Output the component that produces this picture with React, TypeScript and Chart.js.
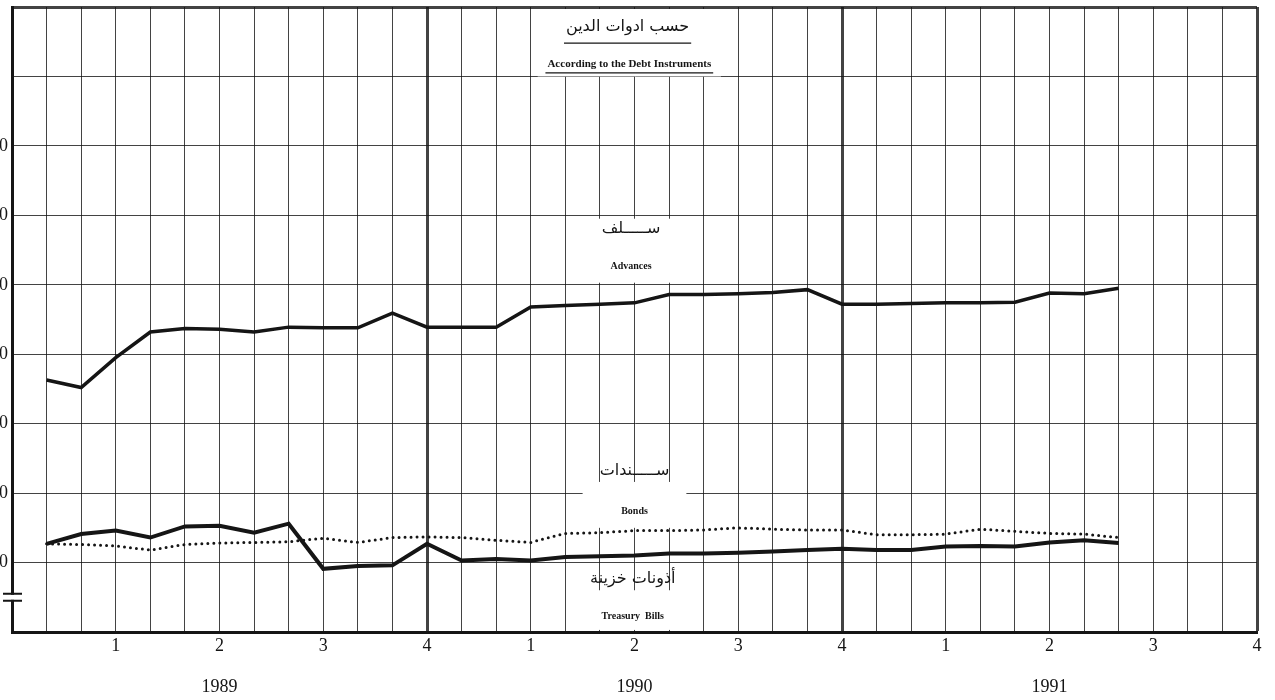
import React, { useEffect, useRef } from 'react';
import { Chart, registerables } from 'chart.js';

Chart.register(...registerables);

// x positions: month index 0..36 (Jan 1989 = 1); quarter numbers shown at quarter ends
const monthLabels = [
  '', '', '', '1', '', '', '2', '', '', '3', '', '', '4',
  '', '', '1', '', '', '2', '', '', '3', '', '', '4',
  '', '', '1', '', '', '2', '', '', '3', '', '', '4',
];
const yearLabels = ['1989', '1990', '1991'];
const yearLabelMonths = [6, 18, 30];
const yTickValues = [100, 200, 300, 400, 500, 600, 700];

// monthly values, Jan 1989 .. Aug 1991
const advances = [
  363, 352, 395, 432, 437, 436, 432, 439, 438, 438, 459, 439,
  439, 439, 468, 470, 472, 474, 486, 486, 487, 489, 493, 472,
  472, 473, 474, 474, 475, 488, 487, 495,
];
const bonds = [
  127, 126, 124, 118, 126, 128, 129, 130, 135, 129, 136, 137,
  136, 132, 129, 142, 143, 146, 146, 147, 150, 148, 147, 147,
  140, 140, 141, 148, 145, 142, 141, 136,
];
const treasuryBills = [
  127, 141, 146, 136, 152, 153, 143, 156, 91, 95, 96, 127,
  103, 105, 103, 108, 109, 110, 113, 113, 114, 116, 118, 120,
  118, 118, 123, 124, 123, 129, 132, 128,
];

const pad = (vals: number[]) => {
  const out: (number | null)[] = [null, ...vals];
  while (out.length < monthLabels.length) out.push(null);
  return out;
};

const SERIF = "'Liberation Serif', 'DejaVu Serif', serif";
const ARABIC = "'DejaVu Sans', 'Noto Sans', sans-serif";
const INK = '#151515';

// annotation blocks (month units / value units)
const boxes = [
  { m0: 15.2, m1: 20.5, v0: 800, v1: 900 },
  { m0: 16.2, m1: 19.8, v0: 503, v1: 598 },
  { m0: 16.5, m1: 19.5, v0: 150, v1: 219 },
  { m0: 16.4, m1: 19.5, v0: 3, v1: 63 },
];
const texts = [
  { t: 'حسب ادوات الدين', m: 17.8, v: 871, font: `16px ${ARABIC}`, underline: 848 },
  { t: 'According to the Debt Instruments', m: 17.85, v: 817, font: `bold 11px ${SERIF}`, underline: 805 },
  { t: 'ســـــلف', m: 17.9, v: 580, font: `16px ${ARABIC}` },
  { t: 'Advances', m: 17.9, v: 527, font: `bold 10px ${SERIF}` },
  { t: 'ســـــندات', m: 18.0, v: 232, font: `16px ${ARABIC}` },
  { t: 'Bonds', m: 18.0, v: 174, font: `bold 10px ${SERIF}` },
  { t: 'أذونات خزينة', m: 17.95, v: 76, font: `16px ${ARABIC}` },
  { t: 'Treasury  Bills', m: 17.95, v: 22, font: `bold 10px ${SERIF}` },
];

const overlayPlugin = {
  id: 'overlay',
  beforeDatasetsDraw(chart: any) {
    const { ctx, scales } = chart;
    const x = scales.x, y = scales.y;
    ctx.save();
    ctx.fillStyle = '#ffffff';
    for (const b of boxes) {
      const x0 = x.getPixelForValue(b.m0), x1 = x.getPixelForValue(b.m1);
      const y0 = y.getPixelForValue(b.v1), y1 = y.getPixelForValue(b.v0);
      ctx.fillRect(x0, y0 + 2, x1 - x0, y1 - y0 - 2);
    }
    ctx.restore();
  },
  afterDatasetsDraw(chart: any) {
    const { ctx, scales, chartArea } = chart;
    const x = scales.x, y = scales.y;
    ctx.save();
    ctx.fillStyle = INK;
    ctx.strokeStyle = INK;
    ctx.textAlign = 'center';
    ctx.textBaseline = 'middle';
    for (const t of texts) {
      ctx.font = t.font;
      const cx = x.getPixelForValue(t.m);
      const cy = y.getPixelForValue(t.v);
      ctx.fillText(t.t, cx, cy);
      if (t.underline !== undefined) {
        const w = ctx.measureText(t.t).width;
        const uy = y.getPixelForValue(t.underline);
        ctx.lineWidth = 1.2;
        ctx.beginPath();
        ctx.moveTo(cx - w / 2 - 2, uy);
        ctx.lineTo(cx + w / 2 + 2, uy);
        ctx.stroke();
      }
    }
    // axis break mark on the left axis
    const bx = chartArea.left;
    const by = y.getPixelForValue(50);
    ctx.fillStyle = '#ffffff';
    ctx.fillRect(bx - 3, by - 2.5, 6, 5);
    ctx.lineWidth = 2;
    ctx.strokeStyle = INK;
    ctx.beginPath();
    ctx.moveTo(bx - 9, by - 3.5);
    ctx.lineTo(bx + 10, by - 3.5);
    ctx.moveTo(bx - 9, by + 3.5);
    ctx.lineTo(bx + 10, by + 3.5);
    ctx.stroke();
    ctx.restore();
  },
};

export default function App() {
  const ref = useRef<HTMLCanvasElement>(null);
  useEffect(() => {
    if (!ref.current) return;
    const chart = new Chart(ref.current, {
      type: 'line',
      data: {
        labels: monthLabels.map((_, i) => String(i)),
        datasets: [
          {
            label: 'Advances',
            data: pad(advances),
            borderColor: INK,
            borderWidth: 3.5,
            pointRadius: 0,
            tension: 0,
            fill: false,
          },
          {
            label: 'Bonds',
            data: pad(bonds),
            borderColor: INK,
            borderWidth: 3,
            borderDash: [0, 6],
            borderCapStyle: 'round',
            pointRadius: 0,
            tension: 0,
            fill: false,
          },
          {
            label: 'Treasury Bills',
            data: pad(treasuryBills),
            borderColor: INK,
            borderWidth: 4,
            pointRadius: 0,
            tension: 0,
            fill: false,
          },
        ],
      },
      options: {
        animation: false,
        responsive: false,
        devicePixelRatio: 1,
        layout: { padding: { top: 7, right: 18, left: 0, bottom: 0 } },
        plugins: {
          legend: { display: false },
          tooltip: { enabled: false },
          title: { display: false },
        },
        scales: {
          x: {
            type: 'category',
            offset: false,
            afterFit: (s: any) => { s.height = 68; s.paddingLeft = 0; s.paddingRight = 0; },
            grid: {
              drawTicks: false,
              color: 'rgba(20,20,20,0.8)',
              lineWidth: (c: any) => (c.index === 12 || c.index === 24 || c.index === 36 ? 3 : 1),
            },
            border: { display: true, width: 3, color: INK },
            ticks: {
              autoSkip: false,
              maxRotation: 0,
              padding: 4,
              color: INK,
              font: { family: SERIF, size: 18, lineHeight: 1.15 },
              callback: (_v: any, i: number) => {
                const yi = yearLabelMonths.indexOf(i);
                return yi >= 0 ? [monthLabels[i], '', yearLabels[yi]] : monthLabels[i];
              },
            },
          },
          y: {
            min: 0,
            max: 900,
            afterFit: (s: any) => { s.width = 52; s.paddingTop = 0; s.paddingBottom = 0; },
            grid: {
              drawTicks: false,
              color: 'rgba(20,20,20,0.8)',
              lineWidth: (c: any) => (c.tick && c.tick.value === 900 ? 3 : 1),
            },
            border: { display: true, width: 3, color: INK },
            ticks: {
              stepSize: 100,
              padding: 4,
              color: INK,
              font: { family: SERIF, size: 18 },
              callback: (v: any) => (yTickValues.includes(Number(v)) ? String(v) : ''),
            },
          },
        },
      },
      plugins: [overlayPlugin],
    } as any);
    return () => chart.destroy();
  }, []);
  return (
    <div style={{ position: 'absolute', left: -40, top: 0, width: 1315, height: 700, background: '#fff' }}>
      <canvas ref={ref} width={1315} height={700} style={{ display: 'block' }} />
    </div>
  );
}
